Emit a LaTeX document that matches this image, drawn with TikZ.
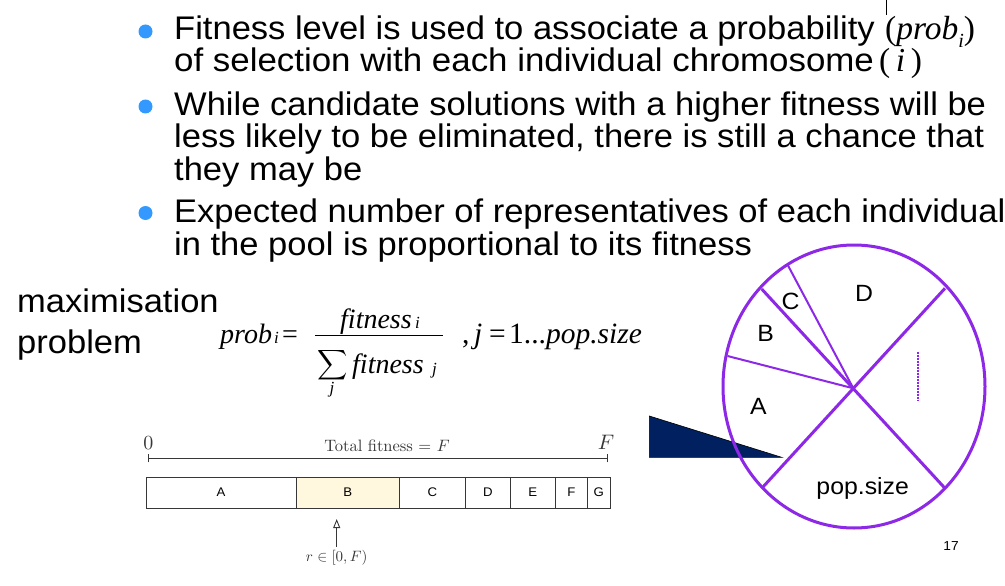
\documentclass[tikz,border=0pt]{standalone}
\usepackage{fontspec}
\newfontfamily\arial{Liberation Sans}[FakeStretch=1.056]
\newfontfamily\tms{Liberation Serif}
\usetikzlibrary{arrows.meta}
\definecolor{bul}{RGB}{51,153,255}
\definecolor{pur}{RGB}{140,40,230}
\definecolor{navyfill}{RGB}{0,32,96}
\definecolor{byel}{RGB}{255,248,222}
\definecolor{dgray}{RGB}{55,55,55}
\begin{document}
\begin{tikzpicture}[x=1pt,y=-1pt,
  slide/.style={font=\arial\fontsize{32.7}{33}\selectfont, anchor=base west, inner sep=0pt},
  tmsit/.style={font=\tms\itshape\fontsize{28}{28}\selectfont, anchor=base west, inner sep=0pt},
  tmsup/.style={font=\tms\fontsize{28}{28}\selectfont, anchor=base west, inner sep=0pt},
  tmssub/.style={font=\tms\itshape\fontsize{17}{17}\selectfont, anchor=base west, inner sep=0pt},
  seg/.style={draw=dgray, line width=1, minimum height=31, inner sep=0pt, font=\arial\fontsize{12.5}{13}\selectfont, text=black},
  ruler/.style={draw=dgray, line width=0.9},
  cmtext/.style={font=\fontsize{10}{12}\selectfont, inner sep=0pt, text=dgray},
  pie/.style={draw=pur, line width=3},
  piethin/.style={draw=pur, line width=2},
  pielab/.style={font=\arial\fontsize{23.5}{24}\selectfont, inner sep=0pt}
]
\useasboundingbox (0,0) rectangle (1005,586);
% top tick
\coordinate (tk1) at (886,0);
\coordinate (tk2) at (886,15);
\draw[line width=0.8] (tk1) -- (tk2);
% bullets
\fill[bul] (145.5,31.5) circle (7);
\fill[bul] (145.5,106.5) circle (7);
\fill[bul] (145.5,213) circle (7);
% slide text
\node[slide] (l1) at (174,39.5) {Fitness level is used to associate a probability};
\node[tmsup, font=\tms\fontsize{33.5}{33.5}\selectfont] (p1) at (885,40) {(\textit{prob}\raisebox{-0.22em}{\fontsize{20}{20}\selectfont\itshape i})};
\node[slide] (l2) at (174,72) {\scalebox{1.01}[1]{of selection with each individual chromosome}};
\node[tmsup, font=\tms\fontsize{33.5}{33.5}\selectfont] (p2) at (879,72) {(\,\textit{i}\,)};
\node[slide] (l3) at (174,115) {While candidate solutions with a higher fitness will be};
\node[slide] (l4) at (174,147.5) {less likely to be eliminated, there is still a chance that};
\node[slide] (l5) at (174,180) {they may be};
\node[slide] (l6) at (174,222.5) {Expected number of representatives of each individual};
\node[slide] (l7) at (174,255) {in the pool is proportional to its fitness};
\node[slide] (m1) at (17,312) {maximisation};
\node[slide] (m2) at (17,353) {problem};
% formula
\node[tmsit] (prob) at (220,343) {prob};
\node[tmssub] (probi) at (274,343) {i};
\node[tmsup] (eq) at (282,343) {=};
\coordinate (barl) at (315,335.7);
\coordinate (barr) at (443,335.7);
\draw[line width=1.3] (barl) -- (barr);
\node[tmsit] (num) at (340,328.3) {fitness};
\node[tmssub] (numi) at (415,328.3) {i};
\node[inner sep=0pt] (sum) at (332.5,365) {\scalebox{2.1}{$\displaystyle\sum$}};
\node[tmsit] (den) at (352,373.3) {fitness};
\node[tmssub] (denj) at (432,374) {j};
\node[tmssub, anchor=base] (sumj) at (332,393) {j};
\node[tmsup, font=\tms\fontsize{29.5}{29.5}\selectfont] (comma) at (462,343) {,};
\node[tmsit, font=\tms\itshape\fontsize{29.5}{29.5}\selectfont] (jj) at (474,343) {j};
\node[tmsup, font=\tms\fontsize{29.5}{29.5}\selectfont] (eq2) at (489,343) {=};
\node[tmsup, font=\tms\fontsize{29.5}{29.5}\selectfont] (rng) at (509,343) {1...\textit{pop.size}};
% bar diagram
\node[seg, minimum width=150] (A) at (221,492.5) {A};
\node[seg, minimum width=103.3, fill=byel] (B) at (347.65,492.5) {B};
\node[seg, minimum width=66] (C) at (432.3,492.5) {C};
\node[seg, minimum width=45] (D) at (487.8,492.5) {D};
\node[seg, minimum width=45] (E) at (532.8,492.5) {E};
\node[seg, minimum width=32] (F) at (571.3,492.5) {F};
\node[seg, minimum width=22.7] (G) at (598.65,492.5) {G};
\coordinate (r0) at (148.3,458.3);
\coordinate (r1) at (607,458.3);
\draw[ruler] (r0) -- (r1);
\draw[ruler] ([yshift=-4]r0) -- ([yshift=4]r0);
\draw[ruler] ([yshift=-4]r1) -- ([yshift=4]r1);
\node[cmtext] (zero) at (148.3,443) {\scalebox{2}{0}};
\node[cmtext] (bigF) at (606,442.5) {\scalebox{2.1}{$F$}};
\node[cmtext] (tot) at (387,446) {\scalebox{1.65}{Total fitness = $F$}};
\coordinate (atail) at (336.7,547);
\coordinate (atip) at (336.7,519);
\draw[dgray, line width=0.9, -{Triangle[open,length=9,width=7]}] (atail) -- (atip);
\node[cmtext] (rlab) at (336.7,558) {\scalebox{1.5}{$r\in[0,F)$}};
% triangle
\coordinate (t1) at (649.3,416);
\coordinate (t2) at (649.3,457.3);
\coordinate (t3) at (781.7,457.3);
\draw[black, line width=0.6, fill=navyfill] (t1) -- (t2) -- (t3) -- cycle;
% pie
\coordinate (c) at (853.3,388.3);
\draw[pie] (854,386.5) ellipse [x radius=131, y radius=141.5];
\coordinate (e1) at (761.7,289);
\coordinate (e2) at (945,488.3);
\coordinate (e3) at (945,288.3);
\coordinate (e4) at (762.7,487.3);
\coordinate (e5) at (727.5,356);
\coordinate (e6) at (788,265.5);
\draw[pie] (e1) -- (e2);
\draw[pie] (e3) -- (e4);
\draw[piethin] (c) -- (e5);
\draw[piethin] (c) -- (e6);
\coordinate (d1) at (918.3,351.7);
\coordinate (d2) at (918.3,400.7);
\draw[pur, line width=2, densely dotted] (d1) -- (d2);
\node[pielab] (lD) at (864,293) {D};
\node[pielab] (lC) at (790.7,301.7) {C};
\node[pielab] (lB) at (765.7,333.3) {B};
\node[pielab] (lA) at (758.3,406.7) {A};
\node[pielab] (lP) at (862.7,488.3) {pop.size};
% page number
\node[font=\arial\fontsize{13}{13}\selectfont, inner sep=0pt] (pg) at (951,546) {17};
\end{tikzpicture}
\end{document}
